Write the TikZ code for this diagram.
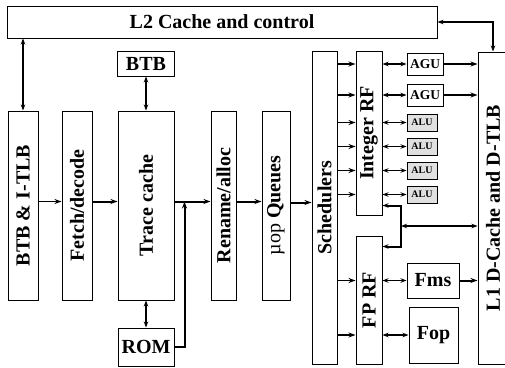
\documentclass[tikz,border=0pt]{standalone}
\usepackage{fontspec}
\setmainfont{Liberation Serif}
\usetikzlibrary{arrows.meta,positioning}

\begin{document}
\begin{tikzpicture}[x=1pt, y=1pt,
  box/.style={draw, line width=1pt, inner sep=0pt, align=center,
              font=\fontsize{20}{20}\selectfont\bfseries},
  tallbox/.style={box, minimum height=189pt},
  unit/.style={box, minimum width=36pt, minimum height=22pt, font=\fontsize{13.5}{13.5}\selectfont\bfseries},
  alu/.style={box, fill=black!12, minimum width=30pt, minimum height=17pt, font=\fontsize{10}{10}\selectfont\bfseries},
  arr/.style={-{Stealth[length=7pt,width=5pt]}, line width=1.2pt},
  thickarr/.style={arr, line width=2pt},
  dbl/.style={{Stealth[length=6pt,width=4.5pt]}-{Stealth[length=6pt,width=4.5pt]}, line width=1.2pt},
  thickdbl/.style={dbl, line width=2pt}]
  \useasboundingbox (0,0) rectangle (505,-367);
  \clip (0,0) rectangle (505,-367);
  % front end
  \node[box, minimum width=430pt, minimum height=32pt] (l2) at (222,-22) {L2 Cache and control};
  \node[tallbox, minimum width=30pt] (btbi) at (23,-205.5) {\rotatebox{90}{BTB \& I-TLB}};
  \node[tallbox, minimum width=30pt, right=23pt of btbi] (fetch) {\rotatebox{90}{Fetch/decode}};
  \node[tallbox, minimum width=56pt, right=25pt of fetch] (trace) {\rotatebox{90}{Trace cache}};
  \node[box, minimum width=57pt, minimum height=25pt, above=34pt of trace] (btb) {BTB};
  \node[box, minimum width=56pt, minimum height=38pt, below=27pt of trace] (rom) {ROM};
  \node[tallbox, minimum width=25pt, right=36pt of trace] (rename) {\rotatebox{90}{Rename/alloc}};
  \node[tallbox, minimum width=28pt, right=25pt of rename] (queues) {\rotatebox{90}{{\mdseries µop} Queues}};
  % back end
  \node[box, minimum width=25pt, minimum height=313pt] (sched) at (324.5,-207.5) {\rotatebox{90}{Schedulers}};
  \node[box, minimum width=26pt, minimum height=164pt] (intrf) at (369,-133) {\rotatebox{90}{Integer RF}};
  \node[box, minimum width=26pt, minimum height=128pt] (fprf) at (369,-300) {\rotatebox{90}{FP RF}};
  \node[unit] (agu1) at (425,-64) {AGU};
  \node[unit, below=8pt of agu1] (agu2) {AGU};
  \foreach \i/\y in {1/122.5, 2/146.5, 3/170.5, 4/194.5}
    \node[alu] (alu\i) at (422,-\y) {ALU};
  \node[box, minimum width=52pt, minimum height=35pt] (fms) at (433,-280.5) {Fms};
  \node[box, minimum width=49pt, minimum height=56pt] (fop) at (433.5,-335) {Fop};
  \node[box, minimum width=30pt, minimum height=312pt] (l1) at (493,-208) {\rotatebox{90}{L1 D-Cache and D-TLB}};
  % connections
  \draw[dbl, line width=1.6pt] (l2.south -| btbi) -- (btbi.north);
  \draw[thickdbl] (l2.east) -| (l1.north);
  \draw[dbl] (btb) -- (trace);
  \draw[dbl] (trace) -- (rom);
  \draw[arr] ([yshift=4pt]btbi.east) -- ([yshift=4pt]fetch.west);
  \draw[thickarr] ([yshift=4pt]fetch.east) -- ([yshift=4pt]trace.west);
  \draw[thickarr] ([yshift=4pt]trace.east) -- ([yshift=4pt]rename.west);
  \draw[thickarr] (rom.east) -| ([xshift=10pt,yshift=4pt]trace.east);
  \draw[thickarr] ([yshift=4pt]rename.east) -- ([yshift=4pt]queues.west);
  \draw[thickarr] ([yshift=3pt]queues.east) -- ([yshift=3pt]queues.east -| sched.west);
  \foreach \u in {agu1,agu2,alu1,alu2,alu3,alu4} {
    \draw[arr] (sched.east |- \u) -- (intrf.west |- \u);
    \draw[dbl] (intrf.east |- \u) -- (\u.west);
  }
  \foreach \u in {fms,fop} {
    \draw[arr] (sched.east |- \u) -- (fprf.west |- \u);
    \draw[dbl] (fprf.east |- \u) -- (\u.west);
  }
  \draw[thickarr] (agu1.east) -- (agu1.east -| l1.west);
  \draw[thickarr] (agu2.east) -- (agu2.east -| l1.west);
  \draw[thickarr] (fms.east) -- (fms.east -| l1.west);
  \coordinate (bus) at (401,-226);
  \draw[thickdbl] ([yshift=10pt]intrf.south east) -| (bus) |- ([yshift=-11pt]fprf.north east);
  \draw[thickdbl] (bus) -- (bus -| l1.west);
\end{tikzpicture}
\end{document}
